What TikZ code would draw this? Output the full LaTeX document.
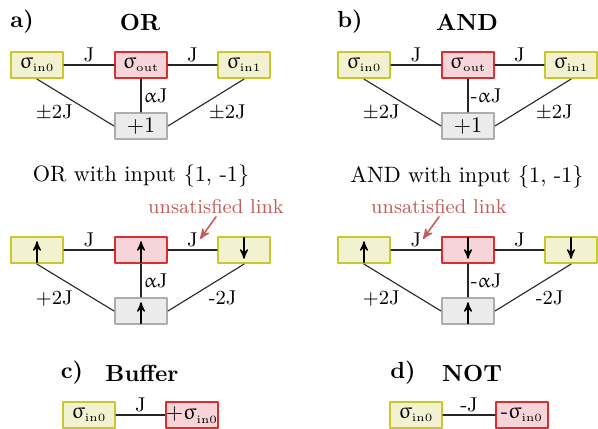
\documentclass[tikz,border=0pt]{standalone}
\usepackage{amsmath}
\usepackage{upgreek}
\usetikzlibrary{arrows}
\definecolor{yybord}{rgb}{0.78,0.78,0.18}
\definecolor{yyfill}{rgb}{0.95,0.95,0.82}
\definecolor{rrbord}{rgb}{0.86,0.18,0.18}
\definecolor{rrfill}{rgb}{0.97,0.83,0.85}
\definecolor{ggbord}{rgb}{0.68,0.68,0.68}
\definecolor{ggfill}{rgb}{0.92,0.92,0.92}
\definecolor{unsatred}{rgb}{0.76,0.36,0.34}
\newcommand{\sgin}[1]{$\upsigma_{\scriptscriptstyle\mathrm{#1}}$}

\tikzset{
	spinbox/.style={line width=1.1pt,minimum width=23.2pt,minimum height=11.6pt,inner sep=1pt},
	inbox/.style={spinbox,draw=yybord,fill=yyfill},
	outbox/.style={spinbox,draw=rrbord,fill=rrfill},
	biasbox/.style={spinbox,draw=ggbord,fill=ggfill},
	link/.style={line width=0.5pt,color=black!85},
	lab/.style={font=\small,inner sep=1pt,color=black},
	spin/.style={->,line width=0.6pt,shorten >=2.4pt,shorten <=0.8pt},
	gatetitle/.style={font=\fontsize{10.5}{12}\selectfont\bfseries}
}

\begin{document}
\begin{tikzpicture}[line cap=round,line join=round,>=stealth',x=0.45pt,y=-0.45pt]
	\useasboundingbox (0,0) rectangle (598,428);
	% a) OR
	\node[gatetitle] (ta) at (22,22) {a)};
	\node[gatetitle] (tor) at (140,22) {OR};
	\node[inbox] (a0) at (37,65) {\sgin{in0}};
	\node[outbox] (aout) at (141,65) {\sgin{out}};
	\node[inbox] (a1) at (244,65) {\sgin{in1}};
	\node[biasbox] (aone) at (141,126) {$+1$};
	\draw[link] (a0) -- node[lab,above] {J} (aout);
	\draw[link] (aout) -- node[lab,above] {J} (a1);
	\draw[link] (aout) -- node[lab,right] {$\upalpha$J} (aone);
	\draw[link] (a0.south) -- node[lab,below left] {$\pm$2J} (aone.west);
	\draw[link] (a1.south) -- node[lab,below right] {$\pm$2J} (aone.east);
	% b) AND
	\node[gatetitle] (tb) at (350,22) {b)};
	\node[gatetitle] (tand) at (467,22) {AND};
	\node[inbox] (b0) at (364,65) {\sgin{in0}};
	\node[outbox] (bout) at (468,65) {\sgin{out}};
	\node[inbox] (b1) at (571,65) {\sgin{in1}};
	\node[biasbox] (bone) at (468,126) {$+1$};
	\draw[link] (b0) -- node[lab,above] {J} (bout);
	\draw[link] (bout) -- node[lab,above] {J} (b1);
	\draw[link] (bout) -- node[lab,right] {-$\upalpha$J} (bone);
	\draw[link] (b0.south) -- node[lab,below left] {$\pm$2J} (bone.west);
	\draw[link] (b1.south) -- node[lab,below right] {$\pm$2J} (bone.east);
	% OR with input
	\node (tmor) at (141,176) {OR with input \{1, -1\}};
	\node[lab,color=unsatred] (ul1) at (216,207) {unsatisfied link};
	\coordinate (u1) at (200,239);
	\node[inbox] (c0) at (37,250) {};
	\node[outbox] (cout) at (141,250) {};
	\node[inbox] (c1) at (244,250) {};
	\node[biasbox] (cone) at (141,311) {};
	\draw[link] (c0) -- node[lab,above] {J} (cout);
	\draw[link] (cout) -- node[lab,above] {J} (c1);
	\draw[link] (cout) -- node[lab,right] {$\upalpha$J} (cone);
	\draw[link] (c0.south) -- node[lab,below left] {+2J} (cone.west);
	\draw[link] (c1.south) -- node[lab,below right] {-2J} (cone.east);
	\draw[spin] (c0.south) -- (c0.north);
	\draw[spin] (cout.south) -- (cout.north);
	\draw[spin] (c1.north) -- (c1.south);
	\draw[spin] (cone.south) -- (cone.north);
	\draw[->,line width=0.7pt,color=unsatred] (ul1.south) -- (u1);
	% AND with input
	\node (tmand) at (467,177) {AND with input \{1, -1\}};
	\node[lab,color=unsatred] (ul2) at (439,207) {unsatisfied link};
	\coordinate (u2) at (423,239);
	\node[inbox] (d0) at (364,250) {};
	\node[outbox] (dout) at (468,250) {};
	\node[inbox] (d1) at (571,250) {};
	\node[biasbox] (done) at (468,311) {};
	\draw[link] (d0) -- node[lab,above] {J} (dout);
	\draw[link] (dout) -- node[lab,above] {J} (d1);
	\draw[link] (dout) -- node[lab,right] {-$\upalpha$J} (done);
	\draw[link] (d0.south) -- node[lab,below left] {+2J} (done.west);
	\draw[link] (d1.south) -- node[lab,below right] {-2J} (done.east);
	\draw[spin] (d0.south) -- (d0.north);
	\draw[spin] (dout.north) -- (dout.south);
	\draw[spin] (d1.north) -- (d1.south);
	\draw[spin] (done.south) -- (done.north);
	\draw[->,line width=0.7pt,color=unsatred] (ul2.south) -- (u2);
	% c) Buffer
	\node[gatetitle] (tc) at (72,373) {c)};
	\node[gatetitle] (tbuf) at (142,373) {Buffer};
	\node[inbox] (e0) at (89,415) {\sgin{in0}};
	\node[outbox,inner xsep=0pt] (eout) at (192,415) {$+$\sgin{in0}};
	\draw[link] (e0) -- node[lab,above] {J} (eout);
	% d) NOT
	\node[gatetitle] (td) at (403,373) {d)};
	\node[gatetitle] (tnot) at (472,373) {NOT};
	\node[inbox] (f0) at (416,415) {\sgin{in0}};
	\node[outbox] (fout) at (522,415) {-\sgin{in0}};
	\draw[link] (f0) -- node[lab,above] {-J} (fout);
\end{tikzpicture}
\end{document}
